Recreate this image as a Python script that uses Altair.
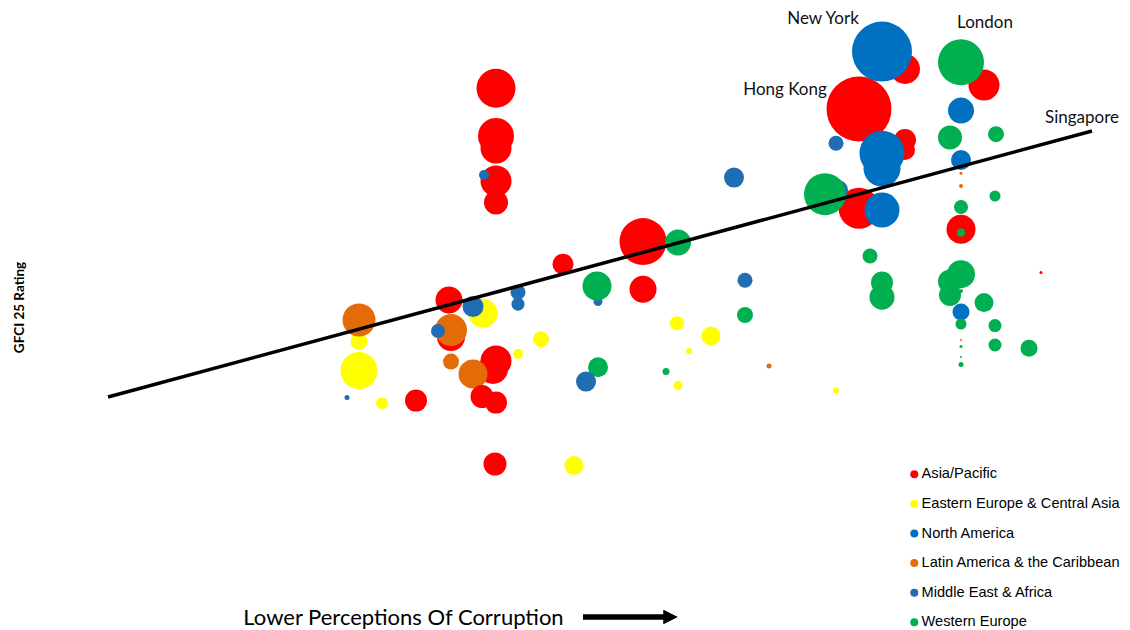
import altair as alt
import pandas as pd

region_names = ["Asia/Pacific", "Eastern Europe & Central Asia", "North America",
                "Latin America & the Caribbean", "Middle East & Africa", "Western Europe"]
region_colors = ["#FF0000", "#FFFF00", "#0070C0", "#E36C09", "#1F6DB2", "#00B050"]
code_to_name = dict(zip(["AP", "EE", "NA", "LA", "ME", "WE"], region_names))

# centres in drawing order (back to front)
region_codes = [
    "AP", "AP", "NA", "AP", "WE", "NA", "WE", "WE", "AP", "AP",
    "NA", "NA", "ME", "NA", "LA", "LA", "AP", "ME", "WE", "NA",
    "WE", "WE", "AP", "WE", "WE", "WE", "WE", "AP", "WE", "WE",
    "WE", "WE", "WE", "NA", "WE", "WE", "LA", "WE", "WE", "WE",
    "WE", "WE", "ME", "ME", "WE", "EE", "EE", "EE", "EE", "WE",
    "LA", "EE", "AP", "AP", "AP", "AP", "AP", "ME", "AP", "WE",
    "AP", "ME", "WE", "AP", "ME", "ME", "AP", "EE", "ME", "EE",
    "EE", "LA", "AP", "LA", "ME", "EE", "EE", "LA", "AP", "AP",
    "LA", "AP", "AP", "AP", "EE", "ME", "WE", "ME", "AP", "EE",
]
corruption_score = [
    80.5, 75.9, 78.2, 88.4, 86.1, 86.1, 85.0, 89.6, 80.5, 80.5,
    78.2, 78.2, 73.6, 86.1, 86.1, 86.1, 75.9, 73.8, 72.5, 78.2,
    89.5, 86.1, 86.1, 86.1, 77.0, 78.2, 78.2, 94.1, 86.1, 85.0,
    85.0, 86.1, 88.4, 86.1, 86.1, 89.5, 86.1, 89.5, 86.1, 92.9,
    86.1, 86.1, 63.4, 64.5, 64.5, 61.1, 57.7, 58.9, 57.8, 56.6,
    66.9, 73.6, 39.6, 39.6, 39.6, 39.6, 39.6, 38.4, 54.3, 57.8,
    46.3, 49.8, 49.7, 54.3, 41.8, 41.8, 34.9, 38.3, 37.3, 25.9,
    25.9, 25.9, 35.1, 35.1, 33.8, 44.1, 41.8, 35.1, 39.6, 39.3,
    37.3, 38.2, 39.6, 31.6, 28.2, 24.7, 49.8, 48.6, 39.5, 47.4,
]
gfci_rating = [
    770.5, 750.5, 779.2, 762.5, 773.9, 749.7, 736.2, 737.9, 735.0, 730.0,
    720.9, 728.4, 733.4, 725.0, 718.4, 712.0, 700.9, 710.0, 707.9, 700.0,
    707.0, 701.5, 690.4, 688.7, 677.0, 663.7, 656.4, 668.7, 667.9, 664.2,
    657.5, 659.5, 653.7, 649.0, 643.0, 642.2, 635.0, 632.5, 631.7, 630.9,
    626.5, 622.7, 716.2, 664.9, 647.5, 637.0, 643.4, 629.5, 612.2, 619.2,
    622.0, 609.7, 760.9, 737.0, 731.0, 714.5, 703.7, 717.5, 684.2, 683.7,
    672.9, 654.2, 662.0, 660.4, 658.9, 652.9, 655.0, 648.4, 651.7, 634.2,
    619.7, 645.0, 636.5, 640.0, 639.5, 635.4, 628.0, 624.2, 624.5, 620.5,
    618.0, 606.7, 603.7, 604.7, 603.4, 606.2, 621.4, 614.2, 573.0, 572.2,
]
centre_weight = [
    30, 65, 60, 31, 46, 26, 24, 16, 22, 20,
    37, 45, 15, 20, 3, 4, 41, 20, 42, 35,
    11, 14, 29, 8, 15, 22, 25, 3, 28, 24,
    22, 4, 19, 17, 11, 13, 2, 13, 3, 17,
    2, 5, 20, 15, 16, 19, 14, 6, 9, 7,
    5, 6, 39, 36, 31, 31, 24, 10, 47, 26,
    21, 9, 29, 27, 15, 13, 27, 29, 21, 17,
    37, 33, 28, 32, 14, 16, 10, 16, 31, 30,
    29, 23, 22, 22, 12, 5, 20, 20, 23, 19,
]

city_names = ["New York", "London", "Hong Kong", "Singapore"]
city_x = [72.3, 88.5, 68.5, 98.2]
city_y = [795.5, 793.5, 760.0, 746.0]

trend_x = [0.8, 99.2]
trend_y = [606.5, 739.5]

df = pd.DataFrame({
    "region": [code_to_name[c] for c in region_codes],
    "cpi": corruption_score,
    "gfci": gfci_rating,
    "weight": centre_weight,
})
cities = pd.DataFrame({"city": city_names, "cpi": city_x, "gfci": city_y})
trend = pd.DataFrame({"cpi": trend_x, "gfci": trend_y})

xscale = alt.Scale(domain=[0, 100], nice=False, zero=False)
yscale = alt.Scale(domain=[560, 800], nice=False, zero=False)

points = alt.Chart(df).mark_circle(opacity=1, stroke=None).encode(
    x=alt.X("cpi:Q", scale=xscale, axis=alt.Axis(
        title="Lower Perceptions Of Corruption", labels=False, ticks=False,
        domain=False, grid=False, titleX=303, titleY=127, titleAlign="center",
        titleBaseline="middle", titleFont="Lato", titleFontSize=22,
        titleFontWeight="normal", titleColor="#000000")),
    y=alt.Y("gfci:Q", scale=yscale, axis=alt.Axis(
        title="GFCI 25 Rating", labels=False, ticks=False, domain=False,
        grid=False, titleX=-81, titleY=297, titleAngle=270, titleAlign="center",
        titleBaseline="middle", titleFont="Lato", titleFontSize=13.5,
        titleFontWeight="bold", titleColor="#000000")),
    color=alt.Color("region:N", scale=alt.Scale(domain=region_names, range=region_colors),
                    legend=alt.Legend(title=None, orient="none", legendX=807, legendY=457,
                                      symbolType="circle", symbolSize=64,
                                      labelFont="Liberation Sans", labelFontSize=14.6,
                                      labelColor="#000000", rowPadding=14.6,
                                      labelOffset=0, labelLimit=0, padding=0,
                                      symbolOpacity=1)),
    size=alt.Size("weight:Q", scale=alt.Scale(type="pow", exponent=2, domain=[0, 100],
                                              range=[0, 10000]), legend=None),
)

trend_line = alt.Chart(trend).mark_line(color="black", strokeWidth=3.5).encode(
    x=alt.X("cpi:Q", scale=xscale), y=alt.Y("gfci:Q", scale=yscale))

labels = alt.Chart(cities).mark_text(font="Lato", fontSize=17, align="center",
                                     baseline="middle", color="#111111").encode(
    x=alt.X("cpi:Q", scale=xscale), y=alt.Y("gfci:Q", scale=yscale), text="city:N")

arrow_shaft = alt.Chart(trend).mark_rule(color="black", strokeWidth=5).encode(
    x=alt.value(483), x2=alt.value(565), y=alt.value(607))
arrow_head = alt.Chart(trend).mark_point(shape="M-1,-1L1,0L-1,1Z", filled=True,
                                          color="black", opacity=1, size=196).encode(
    x=alt.value(570.5), y=alt.value(607))

chart = alt.layer(points, trend_line, labels, arrow_shaft, arrow_head).properties(
    width=1000, height=480,
    padding={"left": 92, "top": 2, "right": 22, "bottom": 140},
    autosize="none",
).configure_view(stroke=None)

chart.save("out.html", embed_options={"renderer": "svg", "actions": False})
